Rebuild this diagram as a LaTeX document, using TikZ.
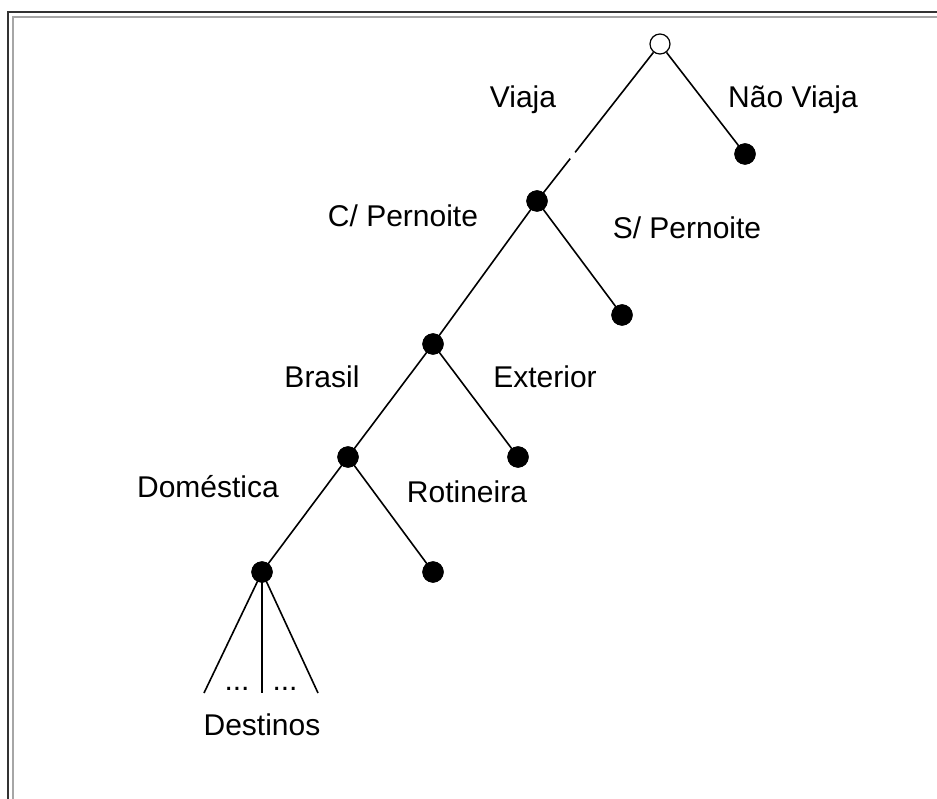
\documentclass[tikz,border=0pt]{standalone}
\usepackage{fontspec}
\setmainfont{Liberation Sans}
\usetikzlibrary{calc}
\tikzset{
  dot/.style={circle,fill=black,draw=black,minimum size=21pt,inner sep=0pt},
  rootdot/.style={circle,fill=white,draw=black,line width=1.2pt,minimum size=20pt,inner sep=0pt},
  lbl/.style={anchor=base,inner sep=0pt,font=\fontsize{30}{36}\selectfont},
  edge/.style={line width=1.6pt,black},
}
\begin{document}
\begin{tikzpicture}[x=1pt,y=-1pt]
\useasboundingbox (0,0) rectangle (937,799);
% frame
\draw[line width=1.8pt,black!80] (8,799) -- (8,12) -- (937,12);
\draw[line width=1.8pt,black!35] (13,799) -- (13,17) -- (937,17);
% nodes
\node[rootdot] (r) at (660,44) {};
\node[dot] (nv) at (745,154) {};
\node[dot] (cp) at (537,201) {};
\node[dot] (sp) at (622,315) {};
\node[dot] (br) at (433,344) {};
\node[dot] (ex) at (518,457) {};
\node[dot] (dm) at (348,457) {};
\node[dot] (rt) at (433,572) {};
\node[dot] (ds) at (262,572) {};
\coordinate (d1) at (204,693);
\coordinate (d2) at (262,693);
\coordinate (d3) at (318,693);
% edges
\draw[edge] (r) -- ($(r)!0.69!(cp)$);
\draw[edge] ($(r)!0.73!(cp)$) -- (cp.center);
\draw[edge] (r) -- (nv.center);
\draw[edge] (cp.center) -- (sp.center);
\draw[edge] (cp.center) -- (br.center);
\draw[edge] (br.center) -- (ex.center);
\draw[edge] (br.center) -- (dm.center);
\draw[edge] (dm.center) -- (rt.center);
\draw[edge] (dm.center) -- (ds.center);
\draw[edge] (ds.center) -- (d1);
\draw[edge] (ds.center) -- (d2);
\draw[edge] (ds.center) -- (d3);
% redraw dots on top
\foreach \p in {{(745,154)},{(537,201)},{(622,315)},{(433,344)},{(518,457)},{(348,457)},{(433,572)},{(262,572)}}
  \fill \p circle (10.5pt);
% labels
\node[lbl] (lv) at (523,108) {Viaja};
\node[lbl] (lnv) at (793,108) {Não Viaja};
\node[lbl] (lcp) at (403,227) {C/ Pernoite};
\node[lbl] (lsp) at (687,239) {S/ Pernoite};
\node[lbl] (lbr) at (322,388) {Brasil};
\node[lbl] (lex) at (545,388) {Exterior};
\node[lbl] (ldm) at (208,497) {Doméstica};
\node[lbl] (lrt) at (467,502) {Rotineira};
\node[lbl] (ldots1) at (237,690) {...};
\node[lbl] (ldots2) at (285,690) {...};
\node[lbl] (lds) at (262,735) {Destinos};
\end{tikzpicture}
\end{document}
